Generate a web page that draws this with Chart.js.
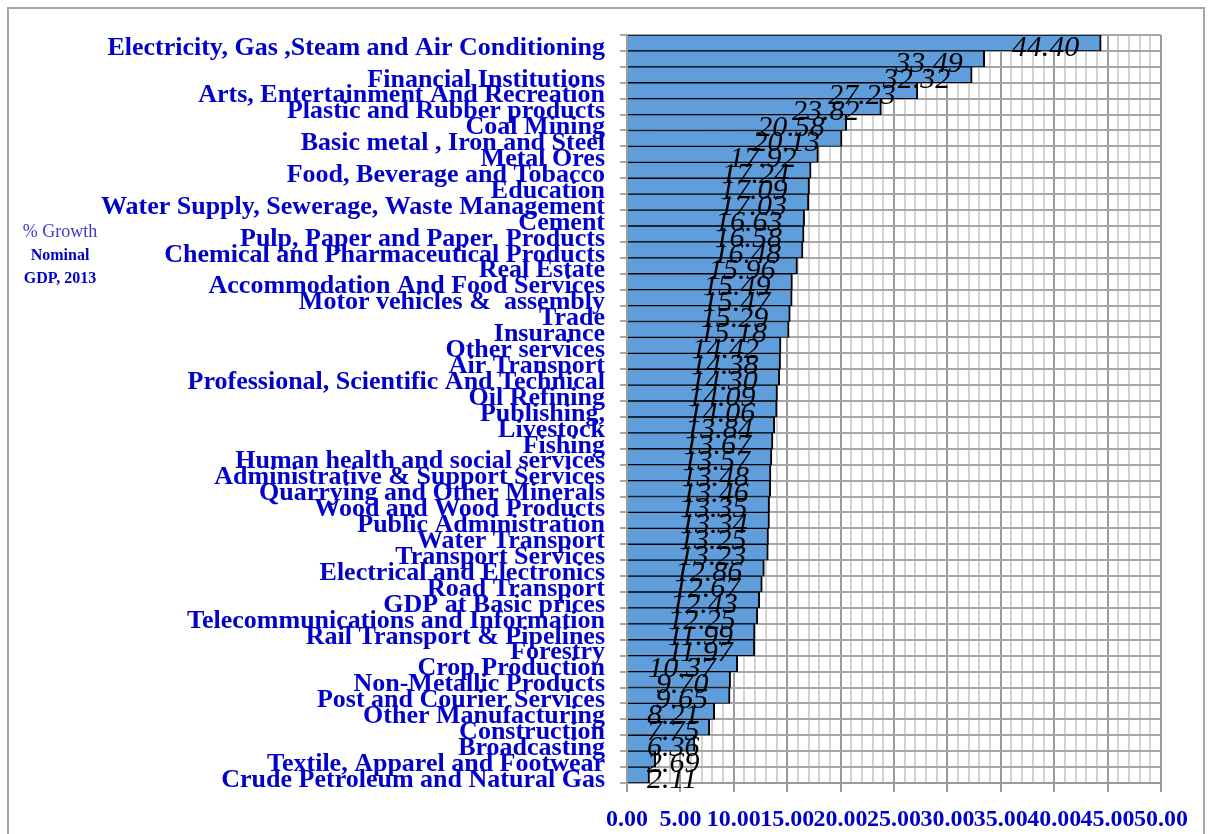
<!DOCTYPE html>
<html>
<head>
    <meta charset="utf-8" />
    <title>% Growth Nominal GDP, 2013</title>
    <script src="https://cdn.jsdelivr.net/npm/chart.js"></script>
    <style>
        body { margin: 0; background: #fff; }
        #wrap { position: relative; width: 1210px; height: 834px; }
        #frame { position: absolute; left: 7px; top: 7px; width: 1198px; height: 840px; border: 2px solid #a6a6a6; box-sizing: border-box; }
        #note { position: absolute; left: 10px; top: 220px; width: 100px; text-align: center; color: #0000c8; font-family: "Liberation Serif", serif; line-height: 23px; }
        #note .g { font-size: 18px; color: #3a3ad0; }
        #note .b { font-size: 16px; font-weight: bold; }
    </style>
</head>
<body>
<div id="wrap">
    <div id="frame"></div>
    <canvas id="gdpChart" width="1210" height="834"></canvas>
    <div id="note"><div class="g">% Growth</div><div class="b">Nominal</div><div class="b">GDP, 2013</div></div>
</div>

<script>
    // sectors, top to bottom (second row has no label in the source)
    const sectors = [
        'Electricity, Gas ,Steam and Air Conditioning', '',
        'Financial Institutions', 'Arts, Entertainment And Recreation',
        'Plastic and Rubber products', 'Coal Mining', 'Basic metal , Iron and Steel',
        'Metal Ores', 'Food, Beverage and Tobacco', 'Education',
        'Water Supply, Sewerage, Waste Management', 'Cement',
        'Pulp, Paper and Paper  Products', 'Chemical and Pharmaceutical Products',
        'Real Estate', 'Accommodation And Food Services', 'Motor vehicles &  assembly',
        'Trade', 'Insurance', 'Other services', 'Air Transport',
        'Professional, Scientific And Technical', 'Oil Refining', 'Publishing,',
        'Livestock', 'Fishing', 'Human health and social services',
        'Administrative & Support Services', 'Quarrying and Other Minerals',
        'Wood and Wood Products', 'Public Administration', 'Water Transport',
        'Transport Services', 'Electrical and Electronics', 'Road Transport',
        'GDP at Basic prices', 'Telecommunications and Information',
        'Rail Transport & Pipelines', 'Forestry', 'Crop Production',
        'Non-Metallic Products', 'Post and Courier Services', 'Other Manufacturing',
        'Construction', 'Broadcasting', 'Textile, Apparel and Footwear',
        'Crude Petroleum and Natural Gas'
    ];
    const growth = [
        44.40, 33.49, 32.32, 27.23, 23.82, 20.58, 20.13, 17.92, 17.24, 17.09,
        17.03, 16.63, 16.58, 16.48, 15.96, 15.49, 15.47, 15.29, 15.18, 14.42,
        14.38, 14.30, 14.09, 14.06, 13.84, 13.67, 13.57, 13.48, 13.46, 13.35,
        13.34, 13.25, 13.23, 12.86, 12.67, 12.43, 12.25, 11.99, 11.97, 10.37,
        9.70, 9.65, 8.21, 7.75, 6.36, 2.69, 2.11
    ];
    const xMin = 0, xMax = 50, xStep = 1, xMajor = 5;

    const blue = '#0000c8';

    // value labels: italic, ending a little inside the bar end
    const valueLabels = {
        id: 'valueLabels',
        afterDatasetsDraw(chart) {
            const ctx = chart.ctx;
            const meta = chart.getDatasetMeta(0);
            const left = chart.chartArea.left;
            ctx.save();
            ctx.font = 'italic 30px "Liberation Serif"';
            ctx.fillStyle = '#000';
            ctx.textAlign = 'right';
            ctx.textBaseline = 'alphabetic';
            meta.data.forEach((bar, i) => {
                const txt = growth[i].toFixed(2);
                const w = ctx.measureText(txt).width;
                const x = Math.max(bar.x - 22, left + 20 + w);
                ctx.fillText(txt, x, bar.y + 13);
            });
            ctx.restore();
        }
    };

    new Chart(document.getElementById('gdpChart'), {
        type: 'bar',
        data: {
            labels: sectors,
            datasets: [{
                data: growth,
                backgroundColor: '#5f9ddb',
                borderColor: '#000',
                borderWidth: { top: 1, bottom: 1, right: 2, left: 0 },
                borderSkipped: false,
                barPercentage: 1,
                categoryPercentage: 1
            }]
        },
        options: {
            indexAxis: 'y',
            responsive: false,
            animation: false,
            layout: { padding: { top: 35, right: 49, left: 0, bottom: 0 } },
            plugins: { legend: { display: false }, tooltip: { enabled: false } },
            scales: {
                x: {
                    min: xMin, max: xMax,
                    afterFit: s => { s.height = 51; },
                    ticks: {
                        stepSize: xStep,
                        autoSkip: false,
                        maxRotation: 0,
                        padding: 13,
                        color: blue,
                        font: { family: '"Liberation Serif"', size: 24, weight: 'bold' },
                        callback: v => (v % xMajor === 0 ? v.toFixed(2) : '')
                    },
                    grid: {
                        lineWidth: 2,
                        tickLength: 9,
                        color: c => (c.tick && c.tick.value % xMajor === 0 ? '#9a9a9a' : '#d2d2d2'),
                        tickColor: c => (c.tick && c.tick.value % xMajor === 0 ? '#9a9a9a' : 'rgba(0,0,0,0)')
                    },
                    border: { color: '#9a9a9a', width: 2 }
                },
                y: {
                    afterFit: s => { s.width = 627; },
                    ticks: {
                        autoSkip: false,
                        padding: 15,
                        labelOffset: 5,
                        color: blue,
                        font: { family: '"Liberation Serif"', size: 26, weight: 'bold' }
                    },
                    grid: { offset: true, lineWidth: 2, tickLength: 7, color: '#a6a6a6', tickColor: '#a6a6a6' },
                    border: { color: '#9a9a9a', width: 2 }
                }
            }
        },
        plugins: [valueLabels]
    });
</script>
</body>
</html>
